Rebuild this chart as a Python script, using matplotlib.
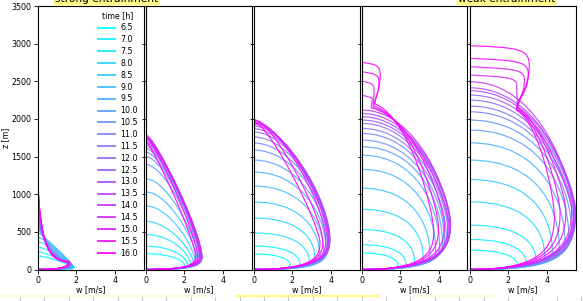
import numpy as np
import matplotlib
matplotlib.use("Agg")
import matplotlib.pyplot as plt
from matplotlib.path import Path
from matplotlib.patches import PathPatch
from matplotlib.lines import Line2D

TIMES = [6.5, 7.0, 7.5, 8.0, 8.5, 9.0, 9.5, 10.0, 10.5, 11.0, 11.5, 12.0,
         12.5, 13.0, 13.5, 14.0, 14.5, 15.0, 15.5, 16.0]
PANEL_TITLES = ["strong entrainment", "weak entrainment"]
XTICKS = [0, 2, 4]
YTICKS = [0, 500, 1000, 1500, 2000, 2500, 3000, 3500]

# ---- panel 1 (strong entrainment) ----
P1_Z_TOP = [180, 235, 300, 370, 430, 495, 560, 650, 750, 850, 950, 1050, 1150, 1250, 1330, 1400, 1450, 1480, 1500, 1520]
P1_W_C1 = [0.35, 0.35, 0.35, 0.35, 0.3, 0.25, 0.15, 0.08, 0.05, 0.03, 0.02, 0.02, 0.01, 0.01, 0.01, 0.01, 0.01, 0.01, 0.01, 0.01]
P1_Z_C1 = [180, 235, 300, 370, 430, 470, 450, 420, 380, 340, 300, 280, 260, 240, 220, 200, 190, 180, 170, 160]
P1_W_C2 = [1.85, 1.85, 1.8, 1.75, 1.7, 1.6, 1.4, 1.2, 1.1, 1.0, 0.95, 0.9, 0.85, 0.8, 0.8, 0.8, 0.8, 0.8, 0.8, 0.8]
P1_Z_C2 = [60, 80, 100, 120, 130, 140, 140, 140, 130, 130, 120, 120, 120, 120, 110, 110, 110, 110, 110, 110]
P1_W_PEAK = [1.9, 1.9, 1.88, 1.86, 1.85, 1.83, 1.8, 1.78, 1.76, 1.74, 1.72, 1.7, 1.7, 1.68, 1.67, 1.66, 1.65, 1.64, 1.63, 1.62]
P1_Z_PEAK = [25, 28, 30, 35, 40, 45, 50, 60, 65, 70, 75, 80, 85, 90, 95, 100, 100, 105, 110, 110]

# ---- panel 2 ----
P2_Z_TOP = [210, 310, 465, 640, 845, 1030, 1205, 1395, 1500, 1560, 1610, 1645, 1680, 1705, 1730, 1750, 1770, 1790, 1760, 1700]
P2_W_C1 = [1.3, 1.4, 1.35, 1.25, 1.25, 1.25, 1.2, 1.1, 1.0, 0.9, 0.85, 0.8, 0.75, 0.7, 0.65, 0.6, 0.55, 0.5, 0.4, 0.3]
P2_Z_C2 = [120, 160, 200, 230, 280, 320, 360, 400, 420, 440, 450, 460, 470, 480, 490, 500, 500, 500, 450, 400]
P2_W_PEAK = [2.05, 2.2, 2.35, 2.5, 2.6, 2.7, 2.78, 2.83, 2.87, 2.9, 2.92, 2.93, 2.93, 2.92, 2.9, 2.88, 2.85, 2.8, 2.7, 2.6]
P2_Z_PEAK = [40, 50, 60, 70, 80, 100, 110, 120, 130, 140, 150, 160, 165, 170, 175, 180, 180, 180, 175, 170]

# ---- panel 3 ----
P3_Z_TOP = [206, 312, 485, 684, 896, 1109, 1295, 1454, 1587, 1680, 1760, 1826, 1870, 1905, 1930, 1950, 1965, 1980, 1990, 1960]
P3_W_C1 = [1.4, 1.8, 2.2, 2.4, 2.5, 2.5, 2.4, 2.3, 2.2, 2.1, 2.0, 1.9, 1.8, 1.7, 1.6, 1.5, 1.4, 1.3, 1.0, 0.8]
P3_Z_C2 = [130, 190, 290, 410, 530, 650, 740, 800, 840, 870, 890, 900, 900, 900, 900, 900, 880, 850, 700, 600]
P3_W_PEAK = [1.9, 2.4, 2.9, 3.2, 3.45, 3.65, 3.78, 3.85, 3.9, 3.93, 3.95, 3.96, 3.96, 3.95, 3.93, 3.9, 3.85, 3.75, 3.6, 3.45]
P3_Z_PEAK = [60, 80, 100, 130, 160, 200, 240, 280, 320, 350, 370, 390, 400, 400, 400, 400, 390, 380, 370, 350]

# ---- panel 4 ----
P4_Z_TOP = [220, 330, 530, 800, 1080, 1330, 1519, 1630, 1719, 1807, 1874, 1940, 1985, 2029, 2073, 2118, 2317, 2503, 2627, 2751]
P4_W_C1 = [1.4, 1.7, 2.1, 2.4, 2.6, 2.8, 2.9, 3.0, 3.0, 3.0, 3.0, 3.0, 3.0, 3.0, 3.0, 3.0, 2.8, 2.8, 2.7, 2.6]
P4_Z_C2 = [130, 200, 320, 480, 620, 740, 820, 870, 900, 920, 930, 940, 950, 950, 950, 950, 900, 850, 800, 750]
P4_W_PEAK = [1.9, 2.3, 2.75, 3.2, 3.55, 3.85, 4.05, 4.2, 4.3, 4.4, 4.48, 4.55, 4.6, 4.62, 4.62, 4.6, 4.5, 4.3, 4.0, 3.75]
P4_Z_PEAK = [60, 80, 110, 150, 200, 250, 300, 350, 400, 450, 500, 550, 580, 600, 600, 600, 600, 580, 550, 500]
# capped profiles (14.5 - 16.0)
P4_HAT_W = [0.5, 0.6, 0.85, 0.92]
P4_NECK_W = [0.5, 0.6, 0.65, 0.7]
P4_NECK_Z = [2150, 2150, 2170, 2200]
P4_HAT_ZC1 = [2000, 2000, 2000, 2000]

# ---- panel 5 (weak entrainment) ----
P5_Z_TOP = [257, 399, 589, 899, 1196, 1453, 1683, 1852, 1985, 2095, 2171, 2250, 2317, 2374, 2414, 2494, 2583, 2693, 2804, 2973]
P5_W_C1 = [2.1, 2.5, 2.9, 3.3, 3.6, 3.8, 3.9, 4.0, 4.0, 4.0, 4.0, 4.0, 4.0, 4.0, 4.0, 4.0, 3.8, 3.8, 3.7, 3.6]
P5_Z_C2 = [130, 200, 300, 450, 600, 750, 850, 950, 1000, 1000, 1000, 1000, 1000, 1000, 1000, 1000, 1000, 1000, 1000, 1000]
P5_W_PEAK = [2.5, 2.95, 3.45, 3.9, 4.3, 4.65, 4.95, 5.15, 5.3, 5.4, 5.45, 5.5, 5.5, 5.5, 5.45, 5.4, 5.3, 5.0, 4.7, 4.4]
P5_Z_PEAK = [60, 90, 130, 180, 240, 300, 380, 450, 520, 600, 650, 700, 750, 800, 800, 800, 800, 780, 750, 700]
P5_HAT_W = [2.4, 2.8, 3.0, 3.05]
P5_NECK_W = [2.5, 2.5, 2.45, 2.44]
P5_NECK_Z = [2150, 2140, 2130, 2117]
P5_HAT_ZC1 = [1950, 1950, 1950, 1950]

N_HAT = 4

panels = [
    dict(zt=P1_Z_TOP, wc1=P1_W_C1, zc1=P1_Z_C1, wc2=P1_W_C2, zc2=P1_Z_C2, wp=P1_W_PEAK, zp=P1_Z_PEAK),
    dict(zt=P2_Z_TOP, wc1=P2_W_C1, zc2=P2_Z_C2, wp=P2_W_PEAK, zp=P2_Z_PEAK),
    dict(zt=P3_Z_TOP, wc1=P3_W_C1, zc2=P3_Z_C2, wp=P3_W_PEAK, zp=P3_Z_PEAK),
    dict(zt=P4_Z_TOP, wc1=P4_W_C1, zc2=P4_Z_C2, wp=P4_W_PEAK, zp=P4_Z_PEAK,
         hat_w=P4_HAT_W, neck_w=P4_NECK_W, neck_z=P4_NECK_Z, hat_zc1=P4_HAT_ZC1),
    dict(zt=P5_Z_TOP, wc1=P5_W_C1, zc2=P5_Z_C2, wp=P5_W_PEAK, zp=P5_Z_PEAK,
         hat_w=P5_HAT_W, neck_w=P5_NECK_W, neck_z=P5_NECK_Z, hat_zc1=P5_HAT_ZC1),
]

ZMAX = 3500
XMAX = 5.5
FS = 5.7

W, H = 583, 301
fig = plt.figure(figsize=(W / 100, H / 100), dpi=100)
cmap = plt.get_cmap("cool")
n = len(TIMES)

left0, pw, gap = 37.5 / W, 106 / W, 2 / W
bot, ht = 31.5 / H, 263.5 / H


def build_path(p, i):
    zt = p["zt"][i]
    wp, zp = p["wp"][i], p["zp"][i]
    wc1 = p["wc1"][i]
    wc2 = p["wc2"][i] if "wc2" in p else wp
    zc2 = p["zc2"][i]
    verts = [(0, ZMAX), (0, zt)]
    codes = [Path.MOVETO, Path.LINETO]
    k = i - (n - N_HAT)
    if "hat_w" in p and k >= 0:
        hw, nw, nz = p["hat_w"][k], p["neck_w"][k], p["neck_z"][k]
        d = zt - nz
        verts += [(0.8 * hw, zt - 25), (hw + 0.05, zt - 35), (hw + 0.05, zt - 0.3 * d),
                  (hw + 0.05, zt - 0.7 * d), (nw, nz + 0.2 * d), (nw, nz)]
        codes += [Path.CURVE4] * 6
        zc1 = p["hat_zc1"][k]
    else:
        zc1 = p["zc1"][i] if "zc1" in p else zt
    verts += [(wc1, zc1), (wc2, zc2), (wp, zp)]
    verts += [(wp, 0.4 * zp), (0.85 * wp, 0), (0, 0)]
    codes += [Path.CURVE4] * 6
    return Path(verts, codes)


axes = []
for j, p in enumerate(panels):
    ax = fig.add_axes([left0 + j * (pw + gap), bot, pw, ht])
    axes.append(ax)
    for i in range(n):
        col = cmap(i / (n - 1))
        patch = PathPatch(build_path(p, i), facecolor="none", edgecolor=col,
                          lw=0.85, alpha=0.9)
        ax.add_patch(patch)
    ax.set_xlim(0, XMAX)
    ax.set_ylim(0, ZMAX)
    ax.set_xticks(XTICKS)
    ax.set_yticks(YTICKS)
    ax.tick_params(labelsize=FS, length=3, width=0.6, pad=1.5)
    ax.set_xlabel("w [m/s]", fontsize=FS, labelpad=0.5)
    for s in ax.spines.values():
        s.set_linewidth(0.8)
    if j > 0:
        ax.tick_params(labelleft=False)
    else:
        ax.set_ylabel("z [m]", fontsize=FS, labelpad=1)

handles = [Line2D([], [], color=cmap(i / (n - 1)), lw=1.4, alpha=0.9) for i in range(n)]
leg = axes[0].legend(handles, [f"{t:.1f}" for t in TIMES], title="time [h]",
                     loc="upper right", frameon=False, fontsize=FS, title_fontsize=FS,
                     handlelength=2.1, handletextpad=0.75, labelspacing=0.36,
                     borderaxespad=0.3, borderpad=0.4)

# annotations at top (partly cut off, as in the source figure)
box = dict(boxstyle="round,pad=0.15", fc="#fff98a", ec="none")
fig.text(55 / W, 1 - 2.2 / H, PANEL_TITLES[0], fontsize=7.6, ha="left", va="baseline", bbox=box)
fig.text(458 / W, 1 - 2.2 / H, PANEL_TITLES[1], fontsize=7.6, ha="left", va="baseline", bbox=box)

# bottom strip remnants
y_strip = 1 - 296 / H
for x0, x1, c in [(0, 213, "#fffbd8"), (237, 378, "#fff780"), (411, 496, "#fffbd8")]:
    fig.add_artist(Line2D([x0 / W, x1 / W], [y_strip, y_strip], color=c, lw=1.5,
                          transform=fig.transFigure))
for xt in np.arange(20, W, 24.4):
    fig.add_artist(Line2D([xt / W, xt / W], [0, 4 / H], color="#c8c8c8", lw=0.8,
                          transform=fig.transFigure))

fig.savefig("out.png", dpi=100)
